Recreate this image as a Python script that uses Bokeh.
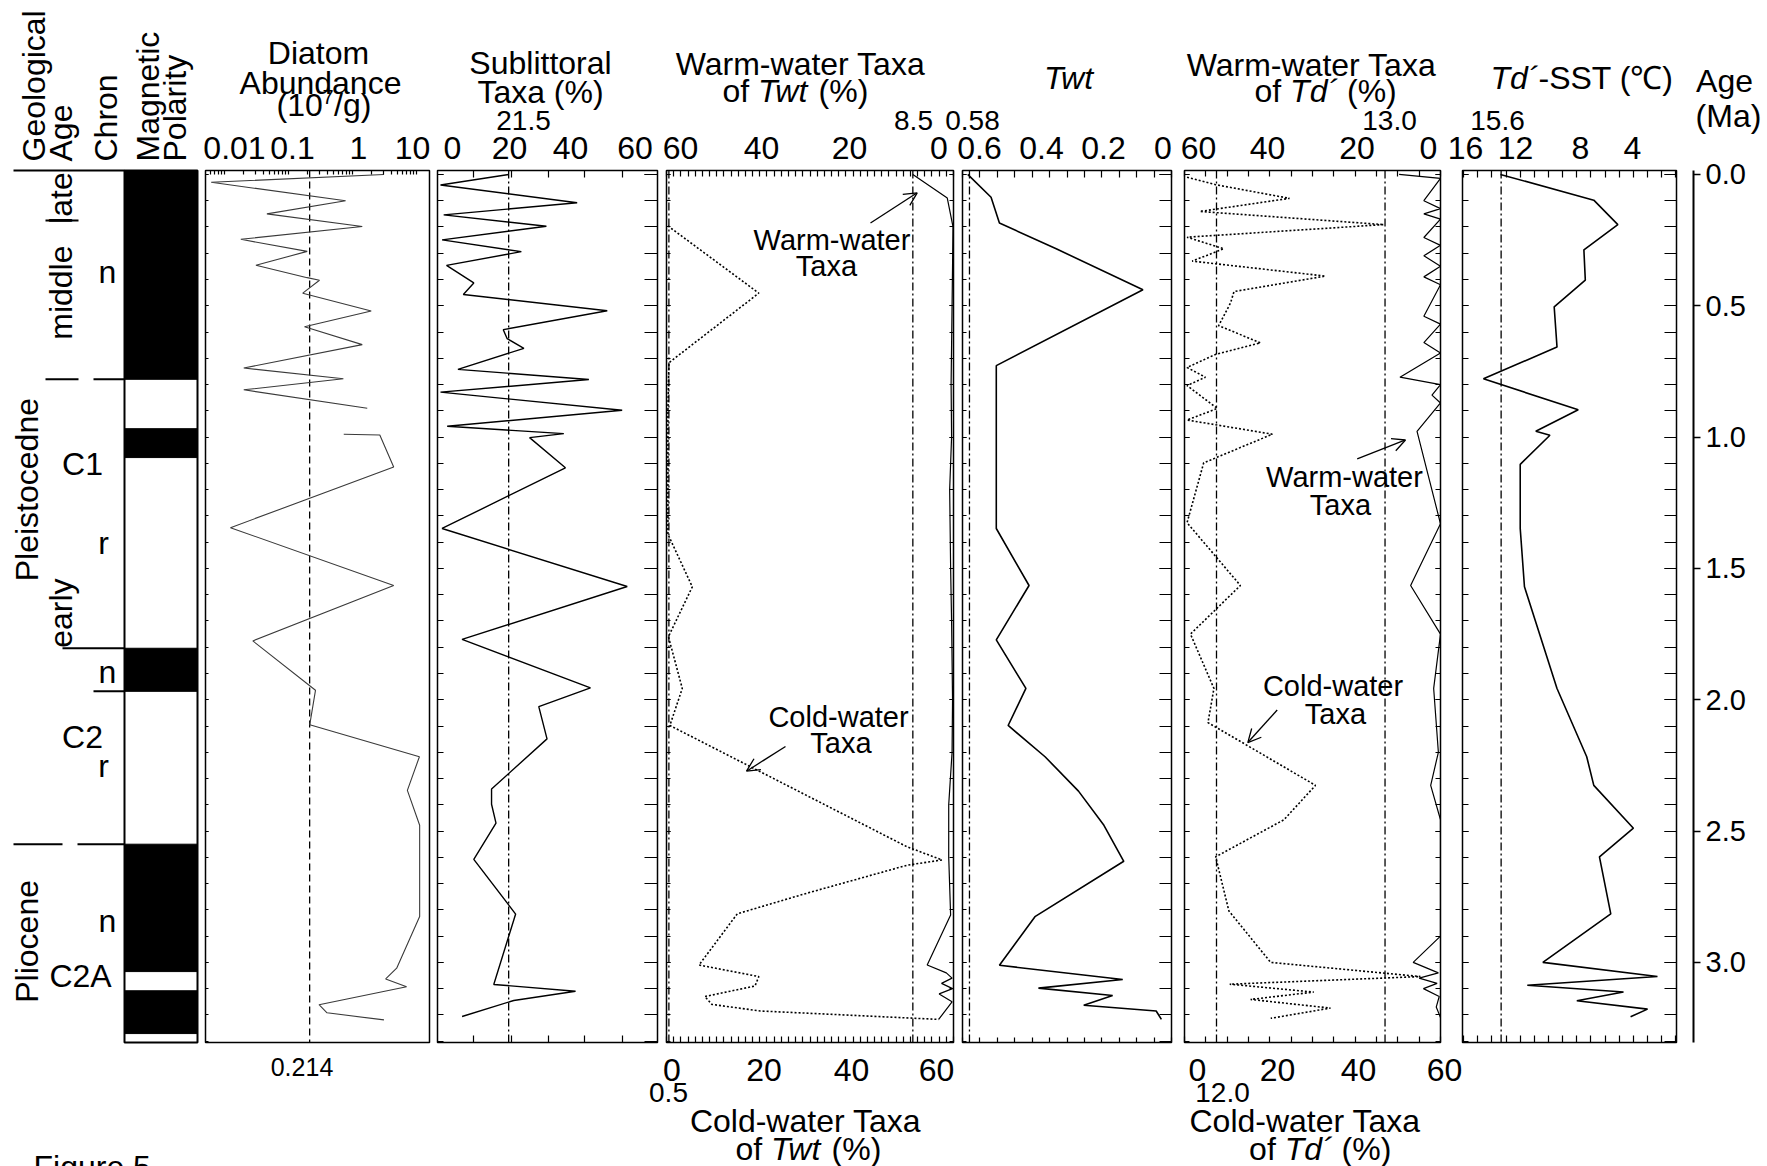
import math
from bokeh.plotting import figure
from bokeh.models import Range1d, LinearAxis, LogAxis, FixedTicker, Label, Arrow, OpenHead
from bokeh.layouts import row, column
from bokeh.embed import file_html
from bokeh.resources import INLINE

nan = float("nan")
FONT = "Liberation Sans"

# ------------------------------------------------------------------ data
# magnetic polarity (normal = black), Ma
polarity_normal_top = [0.0, 0.968, 1.804, 2.550, 3.108]
polarity_normal_base = [0.780, 1.078, 1.968, 3.035, 3.271]
# geological column
epoch_names = ["Pleistocedne", "Pliocene"]
epoch_label_age = [1.20, 2.92]
subepoch_names = ["late", "middle", "early"]
subepoch_label_age = [0.09, 0.45, 1.67]
late_middle_boundary = 0.175
middle_early_boundary = 0.780
olduvai_top, olduvai_base = 1.804, 1.968
pleist_plio_boundary = 2.550
chron_text = ["n", "C1", "r", "n", "C2", "r", "n", "C2A"]
chron_text_age = [0.373, 1.101, 1.405, 1.893, 2.140, 2.254, 2.841, 3.050]

# diatom abundance (10^7/g)
diatom_age = [0.0, 0.03, 0.10, 0.15, 0.198, 0.247, 0.293, 0.346, 0.393, 0.403, 0.452, 0.52, 0.58,
              0.648, 0.737, 0.778, 0.82, 0.89, nan, 0.989, 0.992, 1.114, 1.345, 1.565, 1.776, 1.964,
              2.095, 2.217, 2.345, 2.478, 2.825, 3.022, 3.063, 3.093, 3.161, 3.192, 3.219]
diatom_abund = [3.1, 0.0062, 0.78, 0.046, 1.42, 0.018, 0.196, 0.031, 0.196, 0.305, 0.167, 1.96, 0.178,
                1.42, 0.020, 0.72, 0.020, 1.7, nan, 0.73, 2.67, 4.4, 0.0124, 4.4, 0.0277, 0.264,
                0.215, 11.1, 7.2, 11.2, 11.2, 4.9, 3.3, 7.0, 0.30, 0.40, 3.1]
diatom_ref = 0.214

# sublittoral taxa (%)
sub_age = [0.0, 0.04, 0.108, 0.154, 0.197, 0.249, 0.294, 0.346, 0.413, 0.457, 0.519, 0.591, 0.625,
           0.662, 0.742, 0.781, 0.829, 0.898, 0.959, 0.987, 1.002, 1.117, 1.348, 1.569, 1.77, 1.955,
           2.026, 2.149, 2.34, 2.398, 2.47, 2.608, 2.816, 3.084, 3.11, 3.145, 3.206]
sub_pct = [21.5, 0.0, 43.1, 1.0, 33.4, 0.5, 25.5, 1.9, 10.5, 7.2, 52.6, 19.8, 21.0,
           26.3, 5.5, 46.8, 0.0, 57.3, 2.1, 38.9, 28.1, 39.4, 0.5, 58.9, 6.8, 47.3,
           31.0, 33.6, 16.1, 16.1, 17.5, 10.5, 23.7, 16.8, 42.6, 23.1, 6.8]
sub_ref = 21.5

# warm / cold water taxa of Twt (%)
twt_warm_age = [0.0, 0.09, 0.2, 0.5, 0.8, 1.0, 1.2, 1.5, 1.7, 2.0, 2.2, 2.4, 2.6, 2.82, 3.01,
                3.04, 3.06, 3.08, 3.10, 3.12, 3.15, 3.217]
twt_warm_pct = [8.5, 1.3, 0.1, 0.3, 0.5, 0.4, 0.8, 0.6, 0.4, 0.2, 0.3, 1.0, 1.0, 0.6, 5.5,
                1.5, 0.3, 2.5, 0.2, 3.0, 0.3, 3.1]
twt_cold_age = [0.196, 0.452, 0.717, 0.9, 1.1, 1.37, 1.57, 1.76, 1.957, 2.098, 2.56, 2.61, 2.63,
                2.74, 2.815, 3.01, 3.054, 3.09, 3.13, 3.16, 3.185, 3.217]
twt_cold_pct = [0.3, 19.3, 0.5, 0.3, 0.3, 0.3, 5.4, 0.4, 3.3, 0.7, 50.3, 57.6, 50.3,
                28.7, 14.8, 6.8, 19.3, 18.5, 8.0, 9.5, 19.6, 56.9]
twt_warm_ref = 8.5
twt_cold_ref = 0.5

# Twt
twt_age = [0.0, 0.087, 0.185, 0.283, 0.439, 0.728, 1.348, 1.565, 1.772, 1.957, 2.098, 2.217, 2.348,
           2.478, 2.615, 2.826, 3.011, 3.065, 3.098, 3.126, 3.163, 3.185, 3.217]
twt_val = [0.585, 0.518, 0.494, 0.331, 0.082, 0.503, 0.503, 0.409, 0.503, 0.418, 0.469, 0.363, 0.267,
           0.194, 0.137, 0.392, 0.494, 0.14, 0.382, 0.169, 0.252, 0.044, 0.029]
twt_ref = 0.58

# warm / cold water taxa of Td' (%)
td_warm_age = [0.0, 0.015, 0.10, 0.13, 0.15, 0.17, 0.24, 0.27, 0.31, 0.35, 0.39, 0.42, 0.54, 0.57,
               0.64, 0.68, 0.772, 0.80, 0.84, 0.87, 0.978, 1.33, 1.565, 1.75, 1.957, 2.20, 2.326,
               2.457, 2.90, 3.0, 3.04, 3.06, 3.08, 3.10, 3.13, 3.17, 3.21]
td_warm_pct = [9.7, 0.0, 3.9, 0.0, 3.9, 0.0, 3.9, 0.0, 3.9, 0.0, 3.9, 0.0, 3.9, 0.0,
               3.9, 0.0, 9.5, 0.0, 2.0, 0.0, 5.5, 0.0, 7.0, 0.0, 1.6, 0.5, 2.3,
               0.0, 0.0, 6.4, 0.5, 5.0, 0.8, 4.0, 0.3, 1.0, 0.0]
td_cold_age = [0.011, 0.039, 0.091, 0.141, 0.191, 0.239, 0.283, 0.330, 0.387, 0.446, 0.489, 0.576,
               0.641, 0.685, 0.735, 0.772, 0.804, 0.891, 0.935, 0.989, 1.098, 1.326, 1.565, 1.750,
               1.957, 2.087, 2.174, 2.326, 2.457, 2.598, 2.804, 3.000, 3.054, 3.083, 3.113, 3.141,
               3.174, 3.213]
td_cold_pct = [0.6, 7.3, 24.6, 3.6, 46.7, 0.6, 9.2, 1.8, 33.0, 11.6, 10.8, 8.0,
               17.8, 7.3, 0.6, 4.9, 0.6, 7.7, 0.6, 20.6, 4.5, 0.6, 13.1, 1.4,
               6.9, 5.5, 14.7, 30.7, 23.3, 7.3, 10.4, 20.2, 55.3, 10.6, 30.3, 15.5,
               34.2, 20.2]
td_warm_ref = 13.0
td_cold_ref_pos = 7.5     # drawn position of the line labelled 12.0

# Td'-SST (deg C)
sst_age = [0.0, 0.098, 0.191, 0.287, 0.402, 0.504, 0.657, 0.778, 0.896, 0.978, 0.993, 1.104, 1.348,
           1.57, 1.957, 2.217, 2.326, 2.489, 2.598, 2.815, 3.0, 3.054, 3.087, 3.113, 3.146, 3.178, 3.207]
sst_val = [13.4, 6.8, 5.1, 7.5, 7.4, 9.6, 9.4, 14.6, 7.9, 10.9, 9.9, 12.0, 12.0,
           11.7, 9.4, 7.3, 6.8, 4.0, 6.4, 5.6, 10.4, 2.3, 11.5, 4.7, 8.0, 3.0, 4.2]
sst_ref_pos = 13.35       # drawn position of the line labelled 15.6

# tick labels
age_ticks = [0.0, 0.5, 1.0, 1.5, 2.0, 2.5, 3.0]
diatom_tick_labels = ["0.01", "0.1", "1", "10"]
sub_tick_labels = ["0", "20", "40", "60"]
twt_warm_tick_labels = ["60", "40", "20", "0"]
twt_cold_tick_labels = ["0", "20", "40", "60"]
twt_tick_labels = ["0.6", "0.4", "0.2", "0"]
td_warm_tick_labels = ["60", "40", "20", "0"]
td_cold_tick_labels = ["0", "20", "40", "60"]
sst_tick_labels = ["16", "12", "8", "4"]

# ------------------------------------------------------------------ layout helpers
H = 1166
HDR_H, FTR_H = 168, 122
HDR_R_H = 150
TOP_PX, BOT_PX = 170, 1042
AGE_TOP, AGE_BOTTOM = -0.015, 3.305
PX_PER_MA = (BOT_PX - TOP_PX) / (AGE_BOTTOM - AGE_TOP)
AGE_MINOR = [round(0.1 * i, 1) for i in range(0, 34)]
PANEL_H = BOT_PX - TOP_PX + 4


def age_at(py):
    return AGE_TOP + (py - TOP_PX) / PX_PER_MA


class Pan:
    def __init__(self, l, r, v0, v1, log=False):
        self.l, self.r, self.v0, self.v1, self.log = l, r, v0, v1, log

    def x(self, px):
        f = (px - self.l) / (self.r - self.l)
        if self.log:
            a, b = math.log10(self.v0), math.log10(self.v1)
            return 10 ** (a + f * (b - a))
        return self.v0 + f * (self.v1 - self.v0)


def new_fig(width, height, xr, yr, log=False, bl=0, br=0, bt=0, bb=0, outline=None):
    p = figure(width=width, height=height, x_range=xr, y_range=yr,
               x_axis_type="log" if log else "linear", x_axis_location=None, y_axis_location=None,
               min_border_left=bl, min_border_right=br, min_border_top=bt, min_border_bottom=bb,
               toolbar_location=None, output_backend="svg", title=None)
    p.outline_line_color = outline
    p.outline_line_width = 1.5
    p.background_fill_color = "white"
    p.border_fill_color = "white"
    for g in p.grid:
        g.visible = False
    return p


def panel_fig(width, bl, br, xr, log=False, outline="black"):
    return new_fig(width, PANEL_H, xr, Range1d(AGE_BOTTOM, AGE_TOP), log=log,
                   bl=bl, br=br, bt=2, bb=2, outline=outline)


def lab(p, x, y, text, size="32px", align="center", baseline="middle", style="normal",
        angle=0, rname="default"):
    p.add_layout(Label(x=x, y=y, text=text, text_font=FONT, text_font_size=size,
                       text_align=align, text_baseline=baseline, text_font_style=style,
                       angle=angle, angle_units="deg", x_range_name=rname, text_color="black"))


def tick_x(p, place, minor, tick_len=6, rname="default", log=False):
    Axis = LogAxis if log else LinearAxis
    ax = Axis(x_range_name=rname, ticker=FixedTicker(ticks=[], minor_ticks=list(minor)),
              major_tick_in=0, major_tick_out=0, minor_tick_in=tick_len, minor_tick_out=0,
              minor_tick_line_color="black", minor_tick_line_width=1.2, axis_line_color=None,
              major_label_standoff=0, major_label_text_font_size="0px")
    p.add_layout(ax, place)


def tick_y(p, place, tick_len):
    ax = LinearAxis(ticker=FixedTicker(ticks=age_ticks, minor_ticks=AGE_MINOR),
                    major_tick_in=tick_len, major_tick_out=0, minor_tick_in=tick_len,
                    minor_tick_out=0, axis_line_color=None, major_label_text_font_size="0px",
                    major_label_standoff=0, major_label_overrides={v: "" for v in age_ticks},
                    major_tick_line_color="black", minor_tick_line_color="black")
    p.add_layout(ax, place)


def vref(p, v, dash, rname="default", width=1.3):
    p.line([v, v], [AGE_TOP, AGE_BOTTOM], line_color="black", line_dash=dash,
           line_width=width, x_range_name=rname)


def arrow(p, x0, y0, x1, y1):
    p.add_layout(Arrow(end=OpenHead(size=13, line_width=1.3), x_start=x0, y_start=y0,
                       x_end=x1, y_end=y1, line_width=1.3, line_color="black"))


DASHDOT = "8 3 2 3"

# ------------------------------------------------------------------ F0 geological column
p0 = new_fig(201, H, Range1d(0, 201), Range1d(age_at(H), age_at(0)))
tops = list(polarity_normal_top)
tops[0] = AGE_TOP
p0.quad(left=124, right=197, top=tops, bottom=polarity_normal_base,
        fill_color="black", line_color="black")
p0.quad(left=124, right=197, top=AGE_TOP, bottom=AGE_BOTTOM, fill_color=None,
        line_color="black", line_width=2)
seg_x0 = [13, 45, 45, 93, 62, 93, 13, 77]
seg_x1 = [124, 78, 78, 124, 124, 124, 62, 124]
seg_y = [AGE_TOP, late_middle_boundary, middle_early_boundary, middle_early_boundary,
         olduvai_top, olduvai_base, pleist_plio_boundary, pleist_plio_boundary]
p0.segment(x0=seg_x0, y0=seg_y, x1=seg_x1, y1=seg_y, line_color="black", line_width=2)
for txt, xc in [("Geological", 33.5), ("Age", 60), ("Chron", 105.5), ("Magnetic", 147.5),
                ("Polarity", 174)]:
    lab(p0, xc, age_at(161), txt, align="left", angle=90)
for txt, a in zip(epoch_names, epoch_label_age):
    lab(p0, 26, a, txt, angle=90)
for txt, a in zip(subepoch_names, subepoch_label_age):
    lab(p0, 60, a, txt, angle=90)
for txt, a, xc in zip(chron_text, chron_text_age, [107, 82, 103, 107, 82, 103, 107, 80]):
    lab(p0, xc, a, txt)
lab(p0, 33, age_at(1166), "Figure 5", align="left")

# ------------------------------------------------------------------ header / footer (page px)
hdr = new_fig(1483, HDR_H, Range1d(201, 1684), Range1d(HDR_H, 0))
hdr_r = new_fig(83, HDR_R_H, Range1d(1684, 1767), Range1d(HDR_R_H, 0))
ftr = new_fig(1566, FTR_H, Range1d(201, 1767), Range1d(H, H - FTR_H))


def hl(x, y, text, size="32px", align="center", style="normal"):
    lab(hdr, x, y, text, size=size, align=align, style=style)


def fl(x, y, text, size="32px", align="center", style="normal"):
    lab(ftr, x, y, text, size=size, align=align, style=style)


# titles
hl(318, 52, "Diatom")
hl(320, 82.5, "Abundance")
hl(276, 104, "(10", align="left")
hl(322, 96, "7", size="20px", align="left")
hl(333.5, 104, "/g)", align="left")
hl(540, 62, "Sublittoral")
hl(540, 91, "Taxa (%)")
hl(800, 63.5, "Warm-water Taxa")
hl(722, 90, "of", align="left")
hl(757.6, 90, "Twt", align="left", style="italic")
hl(818.1, 90, "(%)", align="left")
hl(1068, 77, "Twt", style="italic")
hl(1311, 64, "Warm-water Taxa")
hl(1254, 90, "of", align="left")
hl(1289.6, 90, "Td\u00b4", align="left", style="italic")
hl(1346.5, 90, "(%)", align="left")
hl(1490, 77, "Td\u00b4", align="left", style="italic")
hl(1538, 77, "-SST (\u2103)", align="left")
lab(hdr_r, 1724, 80, "Age")
lab(hdr_r, 1728, 115, "(Ma)")
# reference-line values
for x, t in [(523, "21.5"), (913, "8.5"), (972, "0.58"), (1389, "13.0"), (1497, "15.6")]:
    hl(x, 120, t, size="28px")
# top tick labels
for xs, labels in [([234, 292, 358, 412], diatom_tick_labels),
                   ([452, 509, 570, 634.5], sub_tick_labels),
                   ([680, 761, 849, 938.5], twt_warm_tick_labels),
                   ([979, 1041, 1103, 1162.5], twt_tick_labels),
                   ([1198, 1267, 1356.5, 1428], td_warm_tick_labels),
                   ([1465, 1515, 1580, 1632], sst_tick_labels)]:
    for x, t in zip(xs, labels):
        hl(x, 147.5, t)
# bottom tick labels and titles
for xs, labels in [([671.5, 763.6, 851, 936], twt_cold_tick_labels),
                   ([1197, 1277, 1358, 1444], td_cold_tick_labels)]:
    for x, t in zip(xs, labels):
        fl(x, 1069, t)
fl(301.5, 1066, "0.214", size="25px")
fl(668, 1092, "0.5", size="28px")
fl(1222, 1092, "12.0", size="28px")
fl(805, 1120, "Cold-water Taxa")
fl(735, 1148, "of", align="left")
fl(770.6, 1148, "Twt", align="left", style="italic")
fl(831.1, 1148, "(%)", align="left")
fl(1304.6, 1120, "Cold-water Taxa")
fl(1248.6, 1148, "of", align="left")
fl(1284.2, 1148, "Td\u00b4", align="left", style="italic")
fl(1341.1, 1148, "(%)", align="left")

# ------------------------------------------------------------------ F1 diatom abundance
D = Pan(205, 429, 0.00505, 15.96, log=True)
p1 = panel_fig(232, 4, 4, Range1d(D.v0, D.v1), log=True)
log_minor = [m * 10 ** k for k in range(-3, 2) for m in range(1, 10) if D.v0 <= m * 10 ** k <= D.v1]
tick_x(p1, "above", log_minor, tick_len=4, log=True)
tick_y(p1, "left", 3)
vref(p1, diatom_ref, "7 4")
p1.line(diatom_abund, diatom_age, line_color="#3a3a3a", line_width=1.1)

# ------------------------------------------------------------------ F2 sublittoral
S = Pan(437, 657, -0.95, 68.45)
p2 = panel_fig(228, 4, 4, Range1d(S.v0, S.v1))
sub_minor = [10.5, 22.4, 34.0, 45.4, 57.3]
tick_x(p2, "above", sub_minor, tick_len=7)
tick_x(p2, "below", sub_minor, tick_len=7)
tick_y(p2, "left", 6)
tick_y(p2, "right", 13)
vref(p2, sub_ref, DASHDOT)
p2.line(sub_pct, sub_age, line_color="black", line_width=1.4)

# ------------------------------------------------------------------ F3 warm/cold of Twt
C3 = Pan(666, 953, 0, 60)
p3 = panel_fig(296, 5, 4, Range1d(0, 60))
p3.extra_x_ranges = {"warm": Range1d(60, 0)}
minor15 = [round(1.5 * i, 2) for i in range(0, 41)]
tick_x(p3, "above", minor15, tick_len=6, rname="warm")
tick_x(p3, "below", minor15, tick_len=6)
tick_y(p3, "left", 4)
tick_y(p3, "right", 4)
vref(p3, twt_warm_ref, DASHDOT, rname="warm")
vref(p3, twt_cold_ref, DASHDOT)
p3.line(twt_warm_pct, twt_warm_age, x_range_name="warm", line_color="black", line_width=1.2)
p3.line(twt_cold_pct, twt_cold_age, line_color="black", line_width=1.6, line_dash="2 2")
lab(p3, C3.x(831.5), 0.25, "Warm-water", size="29px")
lab(p3, C3.x(826), 0.348, "Taxa", size="29px")
arrow(p3, C3.x(870), 0.185, C3.x(916.7), 0.07)
lab(p3, C3.x(838), 2.065, "Cold-water", size="29px")
lab(p3, C3.x(840.5), 2.163, "Taxa", size="29px")
arrow(p3, C3.x(785), 2.178, C3.x(746), 2.272)

# ------------------------------------------------------------------ F4 Twt
p4 = panel_fig(220, 5, 6, Range1d(0.6, 0.0))
minor05 = [round(0.05 * i, 2) for i in range(0, 13)]
tick_x(p4, "above", minor05, tick_len=7)
tick_x(p4, "below", minor05, tick_len=5)
tick_y(p4, "left", 4)
tick_y(p4, "right", 12)
vref(p4, twt_ref, DASHDOT)
p4.line(twt_val, twt_age, line_color="black", line_width=1.6)

# ------------------------------------------------------------------ F5 warm/cold of Td'
C5 = Pan(1184, 1440, 0, 60)
p5 = panel_fig(275, 7, 12, Range1d(0, 60))
p5.extra_x_ranges = {"warm": Range1d(60, 0)}
minor5 = [5 * i for i in range(0, 13)]
tick_x(p5, "above", minor5, tick_len=6, rname="warm")
tick_x(p5, "below", minor5, tick_len=6)
tick_y(p5, "left", 5)
tick_y(p5, "right", 5)
vref(p5, td_warm_ref, DASHDOT, rname="warm")
vref(p5, td_cold_ref_pos, DASHDOT)
p5.line(td_warm_pct, td_warm_age, x_range_name="warm", line_color="black", line_width=1.2)
p5.line(td_cold_pct, td_cold_age, line_color="black", line_width=1.6, line_dash="2 2")
lab(p5, C5.x(1344), 1.152, "Warm-water", size="29px")
lab(p5, C5.x(1340), 1.257, "Taxa", size="29px")
arrow(p5, C5.x(1356.7), 1.083, C5.x(1405), 1.011)
lab(p5, C5.x(1332.5), 1.946, "Cold-water", size="29px")
lab(p5, C5.x(1335), 2.054, "Taxa", size="29px")
arrow(p5, C5.x(1276.7), 2.039, C5.x(1247.3), 2.163)

# ------------------------------------------------------------------ F6 Td'-SST
S6 = Pan(1462, 1676, 16.08, 0.954)
p6 = panel_fig(232, 10, 8, Range1d(S6.v0, S6.v1))
minor1 = list(range(1, 17))
tick_x(p6, "above", minor1, tick_len=7)
tick_x(p6, "below", minor1, tick_len=7)
tick_y(p6, "left", 6)
tick_y(p6, "right", 12)
vref(p6, sst_ref_pos, DASHDOT)
p6.line(sst_val, sst_age, line_color="black", line_width=1.6)

# ------------------------------------------------------------------ F7 age axis
p7 = new_fig(83, PANEL_H + (HDR_H - HDR_R_H), Range1d(0, 1), Range1d(AGE_BOTTOM, AGE_TOP),
             bl=0, br=74, bt=2 + HDR_H - HDR_R_H, bb=2)
ax7 = LinearAxis(ticker=FixedTicker(ticks=age_ticks),
                 major_label_overrides={v: "%.1f" % v for v in age_ticks},
                 major_tick_out=7, major_tick_in=0, minor_tick_out=0, minor_tick_in=0,
                 axis_line_width=2, axis_line_color="black", major_tick_line_width=1.5,
                 major_label_text_font=FONT, major_label_text_font_size="29px",
                 major_label_standoff=5, major_label_text_color="black")
p7.add_layout(ax7, "right")

left_block = column(hdr, row(p1, p2, p3, p4, p5, p6))
right_block = column(row(hdr_r), row(p7))
layout = row(p0, column(row(left_block, right_block), ftr))
with open("out.html", "w") as f:
    f.write(file_html(layout, INLINE))
